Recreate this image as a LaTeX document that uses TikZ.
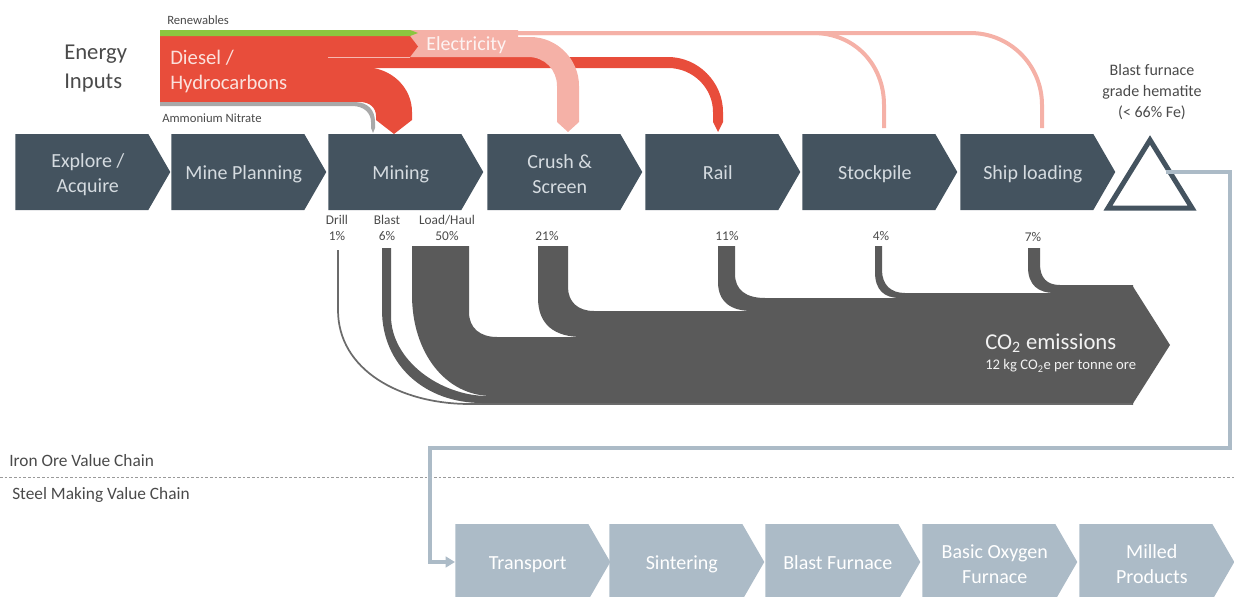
\documentclass[tikz,border=0pt]{standalone}
\usepackage{fontspec}
\setmainfont{Carlito}
\usetikzlibrary{
  positioning,
  shapes.symbols,
  arrows.meta,
}
\definecolor{slate}{HTML}{44535F}
\definecolor{slateText}{HTML}{D5DBE0}
\definecolor{steel}{HTML}{ACBBC7}
\definecolor{diesel}{HTML}{E84D3B}
\definecolor{dieselText}{HTML}{FBE1DC}
\definecolor{elec}{HTML}{F5B1A7}
\definecolor{renew}{HTML}{8CC63F}
\definecolor{ammon}{HTML}{A9A9A9}
\definecolor{emis}{HTML}{5A5A5A}
\definecolor{textSub}{HTML}{4A4A4A}
\definecolor{dotLine}{HTML}{9A9A9A}
\tikzset{
  chevron/.style={
    signal, signal to=east, signal pointer angle=120,
    fill=slate, anchor=west, inner sep=0pt,
    minimum width=116.25pt, minimum height=57pt,
  },
  chevtext/.style={
    align=center, text=slateText, inner sep=0pt, xshift=4.5pt, yshift=-1.8pt,
    font=\fontsize{15}{18.75}\selectfont,
  },
  steelchevron/.style={chevron, fill=steel},
  steeltext/.style={chevtext, text=white},
  pctlabel/.style={font=\fontsize{10}{12}\selectfont, text=textSub, align=center, inner sep=0pt},
  smalllabel/.style={font=\fontsize{9.5}{12}\selectfont, text=textSub, anchor=west, inner sep=0pt},
  chainlabel/.style={font=\fontsize{13}{15}\selectfont, text=textSub, anchor=west, inner sep=0pt},
  emisflow/.style={fill=emis, draw=none},
  thinelec/.style={draw=elec, line width=3pt},
  steelconn/.style={draw=steel, line width=3pt, -{Triangle[length=7pt,width=8pt]}},
}

\begin{document}
\begin{tikzpicture}[x=0.75pt, y=-0.75pt]

  \useasboundingbox (0,0) rectangle (1234,596);
  \clip (0,0) rectangle (1234,596);

  % Energy inputs
  \node[anchor=west, align=left, inner sep=0pt, text=textSub,
        font=\fontsize{17}{21.75}\selectfont] (energy) at (64,69) {Energy\\Inputs};
  \node[smalllabel] (renewlbl) at (167,20) {Renewables};
  \node[smalllabel] (ammonlbl) at (162,118) {Ammonium Nitrate};

  % diesel to rail
  \fill[diesel] (365,57) -- (668,57) .. controls (698,57) and (723,82) .. (723,112)
    -- (723,122) -- (718,132) -- (713,122) -- (713,112)
    .. controls (713,88) and (693,68) .. (668,68) -- (365,68) -- cycle;

  % electricity to crush & screen, stockpile and ship loading
  \draw[thinelec] (518,33) -- (970,33) .. controls (1010,33) and (1042,65) .. (1042,105) -- (1042,128);
  \draw[thinelec] (518,33) -- (813,33) .. controls (855,33) and (884,65) .. (884,105) -- (884,128);
  \fill[elec] (410,30) -- (518,30) -- (518,37) -- (530,37)
    .. controls (557,37) and (579,59) .. (579,86)
    -- (579,122) -- (568,132) -- (557,122) -- (557,86)
    .. controls (557,70) and (545,57) .. (528,57) -- (410,57) -- cycle;
  \node[anchor=west, inner sep=0pt, text=white!85!elec,
        font=\fontsize{15}{17}\selectfont] (elec) at (426,45) {Electricity};

  % ammonium nitrate to mining
  \fill[ammon] (160,102) -- (354,102) .. controls (368,102) and (375,110) .. (375,122)
    -- (375,128) -- (373,133) -- (371,128) -- (371,122)
    .. controls (371,113) and (364,106) .. (352,106) -- (160,106) -- cycle;

  % diesel block, feeder to electricity and flow to mining
  \fill[diesel] (160,36) rectangle (365,102);
  \fill[diesel] (365,36) -- (410,36) -- (418,46.5) -- (410,57) -- (365,57) -- cycle;
  \fill[diesel] (360,67) -- (363,67) .. controls (392,67) and (412,88) .. (412,112)
    -- (412,120) -- (394,134) -- (376,120) -- (376,116)
    .. controls (376,108) and (370,102) .. (360,102) -- cycle;
  \draw[white!60!diesel, line width=0.5pt] (328,57) -- (410,57);
  \fill[renew] (160,30) -- (410,30) -- (418,33) -- (410,36) -- (160,36) -- cycle;
  \node[anchor=west, align=left, inner sep=0pt, text=dieselText,
        font=\fontsize{15.5}{18.75}\selectfont] (diesel) at (170,71) {Diesel /\\Hydrocarbons};

  % Iron ore value chain
  \node[chevron, label={[chevtext]center:Explore /\\Acquire}] (explore) at (15,172) {};
  \node[chevron, label={[chevtext]center:Mine Planning}] (planning) at (171,172) {};
  \node[chevron, label={[chevtext]center:Mining}] (mining) at (328,172) {};
  \node[chevron, label={[chevtext]center:Crush \&\\Screen}] (crush) at (487,172) {};
  \node[chevron, label={[chevtext]center:\vphantom{g}Rail}] (rail) at (645,172) {};
  \node[chevron, label={[chevtext]center:Stockpile}] (stockpile) at (802,172) {};
  \node[chevron, label={[chevtext]center:Ship loading}] (shiploading) at (960,172) {};

  \draw[slate, line width=3.75pt, line join=miter] (1150,140) -- (1192,208) -- (1108,208) -- cycle;
  \coordinate (oreout) at (1166,172);
  \node[align=center, inner sep=0pt, text=textSub,
        font=\fontsize{12}{16}\selectfont] (bfgrade) at (1152,92) {Blast furnace\\grade hematite\\(< 66\% Fe)};

  % Emission shares
  \node[pctlabel] (drill) at (337,228) {Drill\\1\%};
  \node[pctlabel] (blast) at (387,228) {Blast\\6\%};
  \node[pctlabel] (loadhaul) at (447,228) {Load/Haul\\50\%};
  \node[pctlabel] (crushpct) at (547,236) {21\%};
  \node[pctlabel] (railpct) at (727,236) {11\%};
  \node[pctlabel] (stockpct) at (881,236) {4\%};
  \node[pctlabel] (shippct) at (1033,237) {7\%};

  \draw[emis!90!white, line width=1.3pt] (338,250) -- (338,310) .. controls (338,370) and (400,404) .. (470,404) -- (1133,404);
  \fill[emisflow] (382,248) -- (382,310) .. controls (382,365) and (425,403) .. (482,403)
    -- (1133,403) -- (1133,396) -- (488,396) .. controls (440,396) and (391,360) .. (391,316)
    -- (391,248) -- cycle;
  \fill[emisflow] (412,246) -- (412,295) .. controls (412,352) and (445,396) .. (492,396)
    -- (1133,396) -- (1133,337) -- (497,337) .. controls (480,337) and (469,328) .. (469,312)
    -- (469,246) -- cycle;
  \fill[emisflow] (538,246) -- (538,298) .. controls (538,325) and (555,337) .. (582,337)
    -- (1133,337) -- (1133,311) -- (594,311) .. controls (578,311) and (568,302) .. (568,287)
    -- (568,246) -- cycle;
  \fill[emisflow] (718,246) -- (718,282) .. controls (718,302) and (731,311) .. (752,311)
    -- (1133,311) -- (1133,298) -- (765,298) .. controls (746,298) and (735,290) .. (735,274)
    -- (735,246) -- cycle;
  \fill[emisflow] (875,246) -- (875,272) .. controls (875,290) and (884,298) .. (900,298)
    -- (1133,298) -- (1133,293) -- (905,293) .. controls (891,293) and (882,285) .. (882,270)
    -- (882,246) -- cycle;
  \fill[emisflow] (1028,248) -- (1028,267) .. controls (1028,285) and (1038,293) .. (1055,293)
    -- (1133,293) -- (1133,285) -- (1060,285) .. controls (1047,285) and (1040,278) .. (1040,264)
    -- (1040,248) -- cycle;
  \fill[emisflow] (1132,285) -- (1170,345) -- (1132,405) -- cycle;

  \node[anchor=west, inner sep=0pt, text=white!92!emis,
        font=\fontsize{17}{19}\selectfont] (co2) at (985,343) {CO\textsubscript{2} emissions};
  \node[anchor=west, inner sep=0pt, text=white!92!emis,
        font=\fontsize{11}{13}\selectfont] (co2rate) at (985,366) {12 kg CO\textsubscript{2}e per tonne ore};

  % Value chain split
  \draw[dotLine, line width=0.75pt, dash pattern=on 2pt off 1.5pt] (0,477) -- (1234,477);
  \node[chainlabel] (ironchain) at (9,461) {Iron Ore Value Chain};
  \node[chainlabel] (steelchain) at (12,495) {Steel Making Value Chain};

  % Steel making value chain
  \node[steelchevron, label={[steeltext]center:Transport}] (transport) at (455,562) {};
  \node[steelchevron, label={[steeltext]center:Sintering}] (sintering) at (609,562) {};
  \node[steelchevron, label={[steeltext]center:\vphantom{g}Blast Furnace}] (blastfurnace) at (765,562) {};
  \node[steelchevron, label={[steeltext]center:Basic Oxygen\\Furnace}] (bof) at (922,562) {};
  \node[steelchevron, label={[steeltext]center:Milled\\Products}] (milled) at (1079,562) {};

  \draw[steelconn] (oreout) -- (1230,172) -- (1230,448) -- (430,448) |- (transport.west);

\end{tikzpicture}
\end{document}
